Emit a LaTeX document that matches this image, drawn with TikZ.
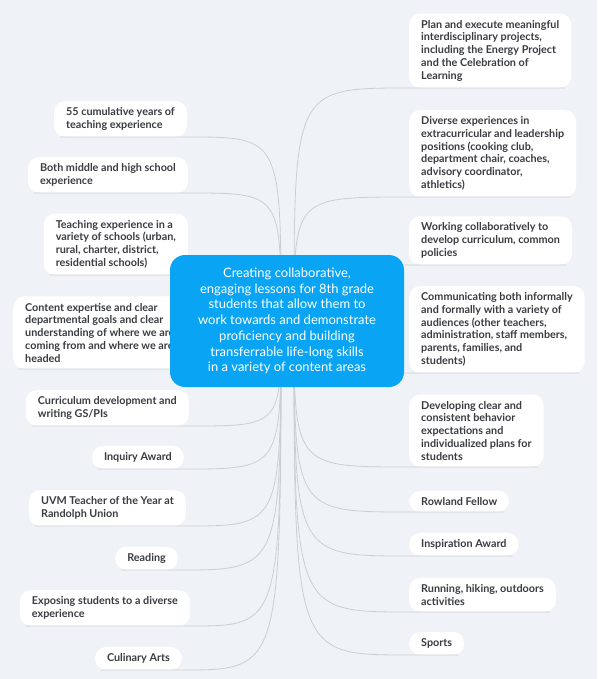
\documentclass[tikz,border=0pt]{standalone}
\usepackage{fontspec}
\setmainfont{Lato}
\usepackage{xcolor}
\usetikzlibrary{positioning}
\definecolor{bgblue}{RGB}{239,243,248}
\definecolor{hubblue}{RGB}{10,164,245}
\definecolor{linegray}{RGB}{203,207,213}
\definecolor{txtgray}{RGB}{58,60,66}

\begin{document}
\begin{tikzpicture}[x=1pt,y=-1pt,
   topic/.style={fill=white,rounded corners=11pt,align=left,inner xsep=12pt,inner ysep=6.5pt,
     font=\bfseries\fontsize{10.8}{12.8}\selectfont,text=txtgray},
   lt/.style={topic,anchor=south east},
   rt/.style={topic,anchor=south west},
   link/.style={draw=linegray,line width=0.8pt},
   main/.style={fill=hubblue,rounded corners=15pt,minimum width=234pt,minimum height=132pt,
     align=center,text=white,font=\fontsize{13}{15.7}\selectfont}]
 \fill[bgblue] (0,0) rectangle (597,679);
 % left branch
 \node[lt] (l1) at (187,137) {55 cumulative years of\\teaching experience};
 \node[lt] (l2) at (188,193) {Both middle and high school\\experience};
 \node[lt] (l3) at (188,275) {Teaching experience in a\\variety of schools (urban,\\rural, charter, district,\\residential schools)};
 \node[topic,anchor=south west] (l4) at (13,369) {Content expertise and clear\\departmental goals and clear\\understanding of where we are\\coming from and where we are\\headed};
 \node[lt] (l5) at (189,426) {Curriculum development and\\writing GS/PIs};
 \node[lt] (l6) at (184,469) {Inquiry Award};
 \node[lt] (l7) at (186,526) {UVM Teacher of the Year at\\Randolph Union};
 \node[lt] (l8) at (178,570) {Reading};
 \node[lt] (l9) at (190,626) {Exposing students to a diverse\\experience};
 \node[lt] (l10) at (182,670) {Culinary Arts};
 % right branch
 \node[rt] (r1) at (409,88) {Plan and execute meaningful\\interdisciplinary projects,\\including the Energy Project\\and the Celebration of\\Learning};
 \node[rt] (r2) at (409,197) {Diverse experiences in\\extracurricular and leadership\\positions (cooking club,\\department chair, coaches,\\advisory coordinator,\\athletics)};
 \node[rt] (r3) at (409,265) {Working collaboratively to\\develop curriculum, common\\policies};
 \node[rt] (r4) at (409,373) {Communicating both informally\\and formally with a variety of\\audiences (other teachers,\\administration, staff members,\\parents, families, and\\students)};
 \node[rt] (r5) at (409,467) {Developing clear and\\consistent behavior\\expectations and\\individualized plans for\\students};
 \node[rt] (r6) at (409,512) {Rowland Fellow};
 \node[rt] (r7) at (409,556) {Inspiration Award};
 \node[rt] (r8) at (409,612) {Running, hiking, outdoors\\activities};
 \node[rt] (r9) at (409,655) {Sports};
 % connectors
 \coordinate (hubL) at (281,321);
 \coordinate (hubR) at (294,321);
 \foreach \i in {1,...,10}
   \draw[link] ([xshift=6pt]l\i.south west) -- (l\i.south east)
     .. controls (hubL |- l\i.south east) .. (hubL);
 \foreach \i in {1,...,9}
   \draw[link] ([xshift=-6pt]r\i.south east) -- (r\i.south west)
     .. controls (hubR |- r\i.south west) .. (hubR);
 % central topic
 \node[main] (goal) at (287,321) {Creating collaborative,\\engaging lessons for 8th grade\\students that allow them to\\work towards and demonstrate\\proficiency and building\\transferrable life-long skills\\in a variety of content areas};
\end{tikzpicture}
\end{document}
